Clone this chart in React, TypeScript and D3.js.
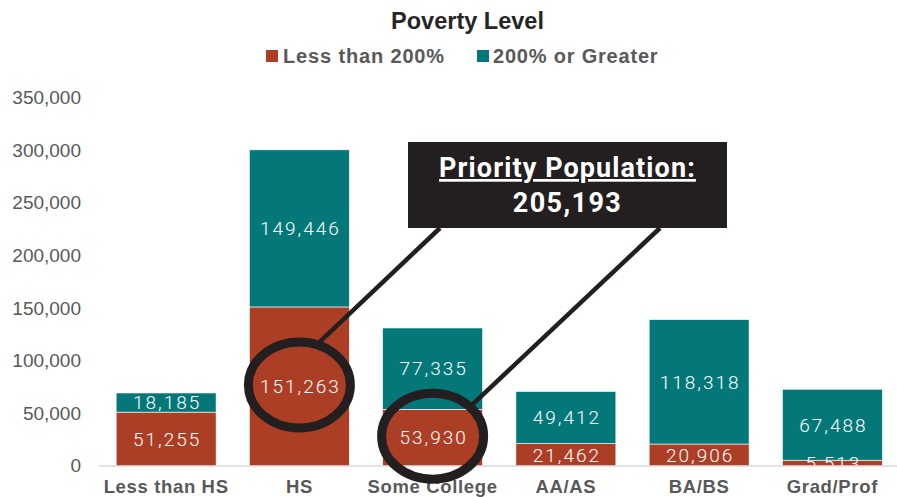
import React from "react";
import * as d3 from "d3";

const categories = ["Less than HS", "HS", "Some College", "AA/AS", "BA/BS", "Grad/Prof"];
const lessThan200 = [51255, 151263, 53930, 21462, 20906, 5513];
const greater200 = [18185, 149446, 77335, 49412, 118318, 67488];
const seriesNames = ["Less than 200%", "200% or Greater"];
const yTicks = [0, 50000, 100000, 150000, 200000, 250000, 300000, 350000];
const highlighted = ["HS", "Some College"];
const calloutTitle = "Priority Population:";
const calloutValue = "205,193";

const W = 897;
const H = 497;
const RED = "#AD3E26";
const TEAL = "#047879";
const GRAY = "#595959";
const DARK = "#231F20";

export default function App() {
  const x = d3.scaleBand<string>().domain(categories).range([99.5, 899]).paddingInner(0.25).paddingOuter(0.125);
  const y = d3.scaleLinear().domain([0, 350000]).range([466, 98]);
  const fmt = d3.format(",");
  const bw = x.bandwidth();

  const box = { x0: 408, y0: 142, x1: 727, y1: 228 };
  const rx = 51, ry = 43;
  const anchors = [
    { cat: highlighted[0], from: 440, ang: -70 },
    { cat: highlighted[1], from: 660, ang: -43 },
  ];

  return (
    <div style={{ position: "fixed", left: 0, top: 0, width: W, height: H, overflow: "hidden" }}>
      <svg width={W} height={H} style={{ display: "block", background: "#fff" }}>
        <defs>
          <clipPath id="plotclip">
            <rect x={0} y={0} width={W} height={y(0)} />
          </clipPath>
        </defs>
        {/* title */}
        <text x={467.5} y={29} textAnchor="middle" fontFamily="'Liberation Sans', Arial, sans-serif" fontWeight="bold" fontSize={23.5} fill="#262626">
          Poverty Level
        </text>
        {/* legend */}
        <rect x={266} y={50} width={12} height={12} fill={RED} />
        <text x={283} y={63} fontFamily="'Liberation Sans', Arial, sans-serif" fontWeight="bold" fontSize={20} letterSpacing={0.85} fill={GRAY}>
          {seriesNames[0]}
        </text>
        <rect x={477} y={50} width={12} height={12} fill={TEAL} />
        <text x={493} y={63} fontFamily="'Liberation Sans', Arial, sans-serif" fontWeight="bold" fontSize={20} letterSpacing={0.8} fill={GRAY}>
          {seriesNames[1]}
        </text>
        {/* y ticks */}
        {yTicks.map((t) => (
          <text key={t} x={81} y={y(t)} dy="0.33em" textAnchor="end" fontFamily="'Liberation Sans', Arial, sans-serif" fontSize={19} fill={GRAY}>
            {fmt(t)}
          </text>
        ))}
        {/* bars */}
        {categories.map((c, i) => {
          const x0 = x(c)!;
          const a = lessThan200[i];
          const b = greater200[i];
          return (
            <g key={c}>
              <rect x={x0} y={y(a)} width={bw} height={y(0) - y(a)} fill={RED} stroke="#ffffff" strokeWidth={0.6} />
              <rect x={x0} y={y(a + b)} width={bw} height={y(a) - y(a + b)} fill={TEAL} stroke="#ffffff" strokeWidth={0.6} />
            </g>
          );
        })}
        {/* data labels */}
        <g clipPath="url(#plotclip)">
          {categories.map((c, i) => {
            const cx = x(c)! + bw / 2;
            const a = lessThan200[i];
            const b = greater200[i];
            return (
              <g key={c} fontFamily="Roboto, sans-serif" fontWeight={300} fontSize={19} letterSpacing={2} fill="#ffffff" textAnchor="middle">
                <text x={cx + 1} y={y(a / 2)} dy="0.36em">{fmt(a)}</text>
                <text x={cx + 1} y={y(a + b / 2)} dy="0.36em">{fmt(b)}</text>
              </g>
            );
          })}
        </g>
        {/* baseline */}
        <line x1={99} x2={W} y1={y(0)} y2={y(0)} stroke="#D9D9D9" strokeWidth={1.5} />
        {/* category labels */}
        {categories.map((c) => (
          <text key={c} x={x(c)! + bw / 2} y={493} textAnchor="middle" fontFamily="'Liberation Sans', Arial, sans-serif" fontWeight="bold" fontSize={18.5} letterSpacing={0.65} fill={GRAY}>
            {c}
          </text>
        ))}
        {/* annotation ellipses and connectors */}
        {anchors.map((an) => {
          const i = categories.indexOf(an.cat);
          const cx = x(an.cat)! + bw / 2;
          const cy = y(lessThan200[i] / 2) - 1.5;
          const t = (an.ang * Math.PI) / 180;
          const ex = cx + rx * Math.cos(t);
          const ey = cy + ry * Math.sin(t);
          return (
            <g key={an.cat}>
              <ellipse cx={cx} cy={cy} rx={rx} ry={ry} fill="none" stroke={DARK} strokeWidth={9} />
              <line x1={an.from} y1={box.y1} x2={ex} y2={ey} stroke={DARK} strokeWidth={4.5} />
            </g>
          );
        })}
        {/* callout box */}
        <rect x={box.x0} y={box.y0} width={box.x1 - box.x0} height={box.y1 - box.y0} fill={DARK} />
        <text x={(box.x0 + box.x1) / 2} y={177} textAnchor="middle" fontFamily="Roboto, sans-serif" fontWeight="bold" fontSize={27} letterSpacing={1.1} fill="#ffffff" textDecoration="underline">
          {calloutTitle}
        </text>
        <text x={(box.x0 + box.x1) / 2} y={212} textAnchor="middle" fontFamily="Roboto, sans-serif" fontWeight="bold" fontSize={27} letterSpacing={1.4} fill="#ffffff">
          {calloutValue}
        </text>
      </svg>
    </div>
  );
}
